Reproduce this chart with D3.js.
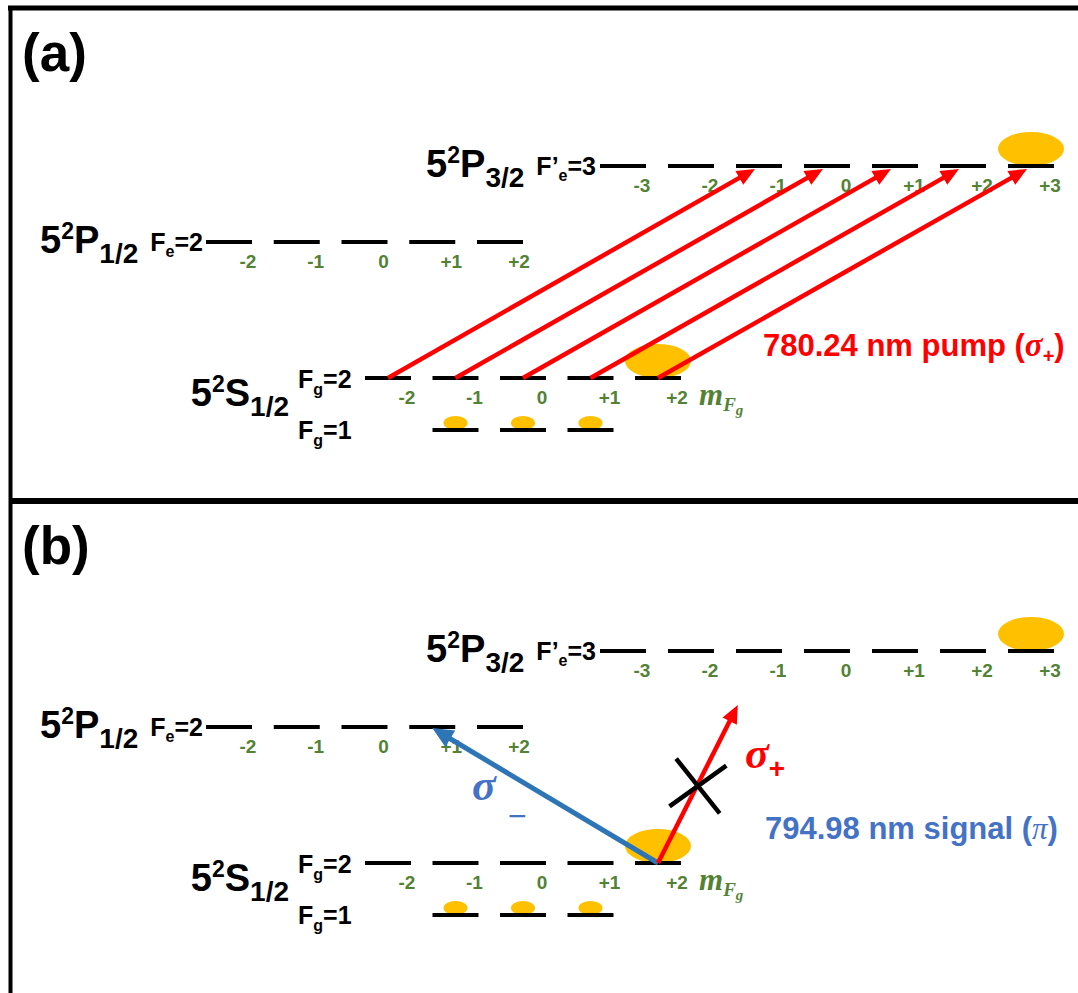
<!DOCTYPE html>
<html><head><meta charset="utf-8">
<script src="https://cdn.jsdelivr.net/npm/d3@7"></script>
<style>body{margin:0;background:#fff} svg{display:block}</style>
</head><body>
<svg id="c" width="1078" height="993"></svg>
<script>
// ---------------- data ----------------
const panels = ["(a)", "(b)"];
const mP32 = [-3, -2, -1, 0, 1, 2, 3];
const tickP32 = ["-3", "-2", "-1", "0", "+1", "+2", "+3"];
const mP12 = [-2, -1, 0, 1, 2];
const tickP12 = ["-2", "-1", "0", "+1", "+2"];
const mFg2 = [-2, -1, 0, 1, 2];
const tickFg2 = ["-2", "-1", "0", "+1", "+2"];
const mFg1 = [-1, 0, 1];
const pumpFrom = [-2, -1, 0, 1, 2];   // F_g=2 sublevels
const pumpTo = [-1, 0, 1, 2, 3];      // F'_e=3 sublevels (sigma+)
const bigPop = [{level: "P32", m: 3}, {level: "Fg2", m: 2}];
const smallPop = [-1, 0, 1];          // F_g=1 residual population
const signalFrom = 2, sigmaMinusTo = 1;
const pumpText = "780.24 nm pump (";
const signalText = "794.98 nm signal (";

// ---------------- scales ----------------
const W = 46;
const xP32 = d3.scaleLinear().domain([-3, 3]).range([600, 1008]);
const xP12 = d3.scaleLinear().domain([-2, 2]).range([206, 477]);
const xG = d3.scaleLinear().domain([-2, 2]).range([365, 635]);
const yL = d3.scaleOrdinal().domain(["P32", "P12", "Fg2", "Fg1"]).range([166, 242, 378, 430]);
const panelY = d3.scaleOrdinal().domain(panels).range([0, 485]);
const panelTop = d3.scaleOrdinal().domain(panels).range([8, 501]);
const xOf = {P32: xP32, P12: xP12, Fg2: xG, Fg1: xG};

const SANS = "'Liberation Sans', Arial, sans-serif";
const SERIF = "'Liberation Serif', 'DejaVu Serif', serif";
const GREEN = "#548235", RED = "#ff0000", BLUE_T = "#4472c4", BLUE_A = "#2e75b6", GOLD = "#ffc000";

const svg = d3.select("#c");

function rich(g, x, y, parts, anchor, color) {
  const t = g.append("text").attr("x", x).attr("y", y)
    .attr("text-anchor", anchor || "start").attr("fill", color || "#000")
    .attr("font-family", SANS).attr("font-weight", "bold");
  parts.forEach(p => {
    const s = t.append("tspan").text(p.t).attr("font-size", p.size);
    if (p.dy) s.attr("dy", p.dy);
    if (p.family) s.attr("font-family", p.family);
    if (p.style) s.attr("font-style", p.style);
    if (p.weight) s.attr("font-weight", p.weight);
  });
  return t;
}

function arrow(g, x1, y1, x2, y2, color, w, hl, hw) {
  const a = Math.atan2(y2 - y1, x2 - x1), c = Math.cos(a), s = Math.sin(a);
  const bx = x2 - hl * c, by = y2 - hl * s;
  g.append("line").attr("x1", x1).attr("y1", y1).attr("x2", bx + 2 * c).attr("y2", by + 2 * s)
    .attr("stroke", color).attr("stroke-width", w);
  g.append("polygon").attr("fill", color)
    .attr("points", [[x2, y2], [bx + hw * s, by - hw * c], [bx - hw * s, by + hw * c]].map(p => p.join(",")).join(" "));
}

// frame
svg.append("line").attr("x1", 8).attr("x2", 1078).attr("y1", 8).attr("y2", 8).attr("stroke", "#000").attr("stroke-width", 5);
svg.append("line").attr("x1", 10.5).attr("x2", 10.5).attr("y1", 6).attr("y2", 993).attr("stroke", "#000").attr("stroke-width", 4);
svg.append("line").attr("x1", 9).attr("x2", 1078).attr("y1", panelTop("(b)")).attr("y2", panelTop("(b)")).attr("stroke", "#000").attr("stroke-width", 6);

panels.forEach(p => {
  const g = svg.append("g").attr("transform", `translate(0,${panelY(p)})`);
  // panel label
  svg.append("text").attr("x", 22).attr("y", panelTop(p) + 63).attr("font-family", SANS)
    .attr("font-weight", "bold").attr("font-size", 53).text(p);

  // populations (drawn under the levels)
  bigPop.forEach(d => {
    g.append("ellipse").attr("cx", xOf[d.level](d.m) + W / 2).attr("cy", yL(d.level) - 17)
      .attr("rx", 33).attr("ry", 17).attr("fill", GOLD);
  });
  smallPop.forEach(m => {
    g.append("ellipse").attr("cx", xG(m) + W / 2).attr("cy", yL("Fg1") - 7)
      .attr("rx", 12).attr("ry", 7).attr("fill", GOLD);
  });

  // levels
  const lev = (ms, key) => g.selectAll(null).data(ms).enter().append("line")
    .attr("x1", m => xOf[key](m)).attr("x2", m => xOf[key](m) + W)
    .attr("y1", yL(key)).attr("y2", yL(key)).attr("stroke", "#000").attr("stroke-width", 4);
  lev(mP32, "P32"); lev(mP12, "P12"); lev(mFg2, "Fg2"); lev(mFg1, "Fg1");

  // tick labels
  const ticks = (ms, labels, key) => g.selectAll(null).data(ms).enter().append("text")
    .attr("x", m => xOf[key](m) + W - 4).attr("y", yL(key) + 26).attr("text-anchor", "middle")
    .attr("font-family", SANS).attr("font-weight", "bold").attr("font-size", 19)
    .attr("fill", GREEN).text((m, i) => labels[i]);
  ticks(mP32, tickP32, "P32"); ticks(mP12, tickP12, "P12"); ticks(mFg2, tickFg2, "Fg2");

  // m_Fg label
  rich(g, xG(2) + W + 18, yL("Fg2") + 27, [
    {t: "m", size: 31, family: SERIF, style: "italic"},
    {t: "F", size: 19, dy: 6, family: SERIF, style: "italic"},
    {t: "g", size: 15, dy: 4, family: SERIF, style: "italic"}
  ], "start", GREEN);

  // state labels P3/2
  const f32 = rich(g, xP32(-3) - 4, yL("P32") + 9, [
    {t: "F", size: 25}, {t: "\u2019", size: 25}, {t: "e", size: 16, dy: 6}, {t: "=3", size: 25, dy: -6}
  ], "end");
  const b32 = f32.node().getBBox();
  rich(g, b32.x - 12, yL("P32") + 11, [
    {t: "5", size: 38}, {t: "2", size: 23, dy: -14}, {t: "P", size: 38, dy: 14}, {t: "3/2", size: 28, dy: 10}
  ], "end");
  // P1/2
  const f12 = rich(g, xP12(-2) - 3, yL("P12") + 9, [
    {t: "F", size: 25}, {t: "e", size: 16, dy: 6}, {t: "=2", size: 25, dy: -6}
  ], "end");
  const b12 = f12.node().getBBox();
  rich(g, b12.x - 12, yL("P12") + 11, [
    {t: "5", size: 38}, {t: "2", size: 23, dy: -14}, {t: "P", size: 38, dy: 14}, {t: "1/2", size: 28, dy: 10}
  ], "end");
  // ground
  const gx = xG(-2) - 67;
  rich(g, gx, yL("Fg2") + 10, [{t: "F", size: 25}, {t: "g", size: 16, dy: 7}, {t: "=2", size: 25, dy: -7}]);
  rich(g, gx, yL("Fg1") + 9, [{t: "F", size: 25}, {t: "g", size: 16, dy: 7}, {t: "=1", size: 25, dy: -7}]);
  rich(g, gx - 9, (yL("Fg2") + yL("Fg1")) / 2 + 2, [
    {t: "5", size: 38}, {t: "2", size: 23, dy: -14}, {t: "S", size: 38, dy: 14}, {t: "1/2", size: 28, dy: 10}
  ], "end");

  if (p === "(a)") {
    pumpFrom.forEach((m, i) => {
      arrow(g, xG(m) + W / 2, yL("Fg2"), xP32(pumpTo[i]) + W / 2 - 4, yL("P32") + 3, RED, 4.5, 18, 8);
    });
    rich(g, 763, 356, [
      {t: pumpText, size: 31},
      {t: "\u03C3", size: 33, family: SERIF, style: "italic"},
      {t: "+", size: 20, dy: 7},
      {t: ")", size: 31, dy: -7}
    ], "start", RED);
  } else {
    const sx = xG(signalFrom) + W / 2, sy = yL("Fg2");
    // sigma- (allowed) to F_e=2, m=+1
    arrow(g, sx, sy, xP12(sigmaMinusTo) + W / 2, yL("P12") + 1, BLUE_A, 5, 21, 9.5);
    // sigma+ (forbidden): there is no m=+3 sublevel in F_e=2
    const ang = -63.2 * Math.PI / 180, len = 177;
    const tx = sx + len * Math.cos(ang), ty = sy + len * Math.sin(ang);
    arrow(g, sx, sy, tx, ty, RED, 4.5, 18, 8);
    const cx = (sx + tx) / 2, cy = (sy + ty) / 2 + 2;
    [[51.5, 35], [-35.7, 35]].forEach(([a, h]) => {
      const r = a * Math.PI / 180;
      g.append("line").attr("x1", cx - h * Math.cos(r)).attr("y1", cy - h * Math.sin(r))
        .attr("x2", cx + h * Math.cos(r)).attr("y2", cy + h * Math.sin(r))
        .attr("stroke", "#000").attr("stroke-width", 4.5);
    });
    rich(g, 745, 283, [
      {t: "\u03C3", size: 44, family: SERIF, style: "italic"},
      {t: "+", size: 28, dy: 10, family: SANS}
    ], "start", RED);
    rich(g, 472, 315, [
      {t: "\u03C3", size: 44, family: SERIF, style: "italic"},
    ], "start", BLUE_T);
    rich(g, 508, 342, [{t: "\u2212", size: 32, weight: "normal"}], "start", BLUE_T);
    rich(g, 765, 354, [
      {t: signalText, size: 31},
      {t: "\u03C0", size: 31, family: SERIF, style: "italic", weight: "normal"},
      {t: ")", size: 31}
    ], "start", BLUE_T);
  }
});
</script>
</body></html>
